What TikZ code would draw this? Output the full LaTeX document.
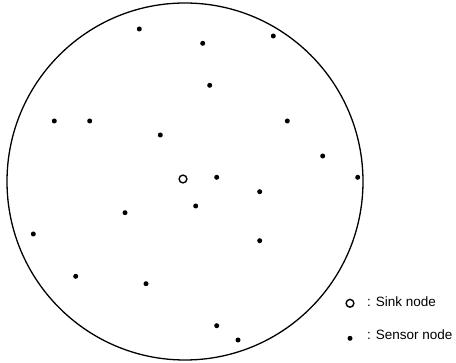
\documentclass[tikz,border=0pt]{standalone}
\usepackage{fontspec}
\setmainfont{Liberation Sans}
\begin{document}
\begin{tikzpicture}[x=1pt,y=-1pt,
  sensor/.style={circle,fill=black,inner sep=0pt,minimum size=5pt},
  sink/.style={circle,draw=black,line width=1.4pt,fill=white,inner sep=0pt,minimum size=7.8pt},
  field/.style={draw=black,line width=1.3pt},
  legend/.style={anchor=west,font=\fontsize{13.5}{15}\selectfont,inner sep=0pt}]
\useasboundingbox (0,0) rectangle (456,363);
\draw[field] (185,181.5) ellipse (178pt and 178.5pt);
\node[sink] (s) at (183,179) {};
\foreach \n/\x/\y in {a/139.3/29, b/202.7/43.3, c/273.3/36, d/209.7/85.3,
  e/54.3/121, f/89.7/121, g/287.3/121, h/160.3/135, i/322.7/156,
  j/216.7/177.3, k/357.7/177.3, l/259.7/191.7, m/195.7/206, n/125/212.7,
  o/33.3/234, p/259.7/240.7, q/75.7/276.3, r/146/283.7, t/216.7/325.7, u/238/340}
  \node[sensor] (\n) at (\x,\y) {};
\node[sink] (ls) at (350,303.3) {};
\node[sensor] (lp) at (350,338.3) {};
\node[legend] (lst) at (367,301.5) {: Sink node};
\node[legend] (lpt) at (367,335) {: Sensor node};
\end{tikzpicture}
\end{document}
